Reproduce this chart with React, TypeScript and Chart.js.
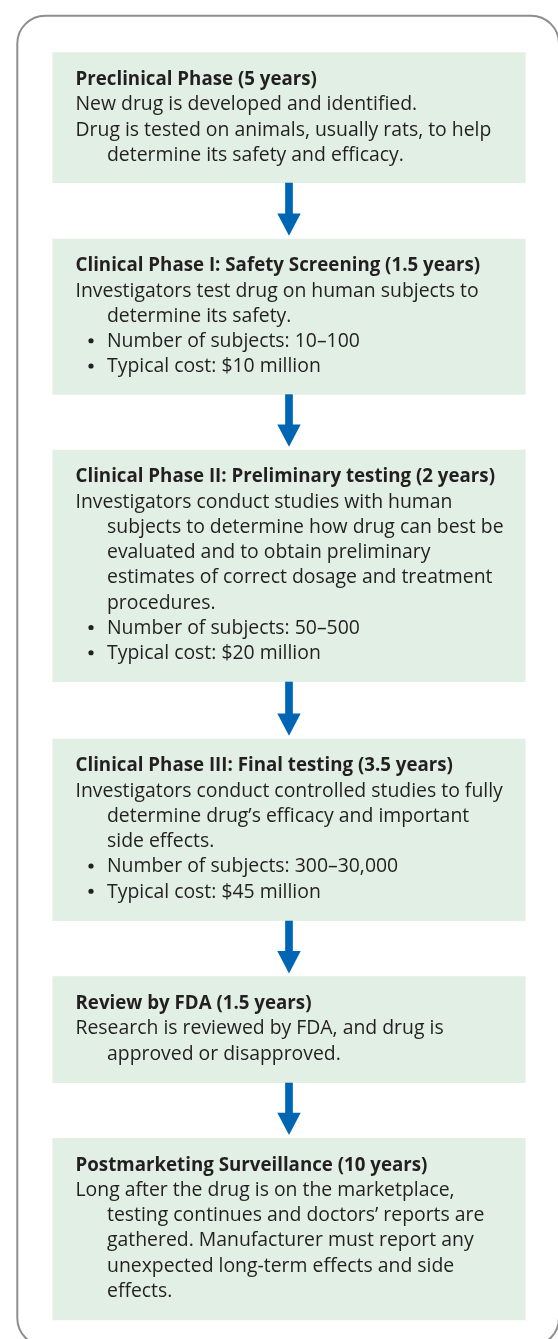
import React, { useEffect, useRef } from 'react';
import { Chart, registerables } from 'chart.js';

Chart.register(...registerables);

// ---------- DATA ----------
const stageTitles: string[] = [
  'Preclinical Phase (5 years)',
  'Clinical Phase I: Safety Screening (1.5 years)',
  'Clinical Phase II: Preliminary testing (2 years)',
  'Clinical Phase III: Final testing (3.5 years)',
  'Review by FDA (1.5 years)',
  'Postmarketing Surveillance (10 years)',
];

// "\t" = continuation line (hanging indent), "• " = bullet item
const stageBody: string[][] = [
  [
    'New drug is developed and identified.',
    'Drug is tested on animals, usually rats, to help',
    '\tdetermine its safety and efficacy.',
  ],
  [
    'Investigators test drug on human subjects to',
    '\tdetermine its safety.',
    '• Number of subjects: 10–100',
    '• Typical cost: $10 million',
  ],
  [
    'Investigators conduct studies with human',
    '\tsubjects to determine how drug can best be',
    '\tevaluated and to obtain preliminary',
    '\testimates of correct dosage and treatment',
    '\tprocedures.',
    '• Number of subjects: 50–500',
    '• Typical cost: $20 million',
  ],
  [
    'Investigators conduct controlled studies to fully',
    '\tdetermine drug’s efficacy and important',
    '\tside effects.',
    '• Number of subjects: 300–30,000',
    '• Typical cost: $45 million',
  ],
  [
    'Research is reviewed by FDA, and drug is',
    '\tapproved or disapproved.',
  ],
  [
    'Long after the drug is on the marketplace,',
    '\ttesting continues and doctors’ reports are',
    '\tgathered. Manufacturer must report any',
    '\tunexpected long-term effects and side',
    '\teffects.',
  ],
];

// vertical extent of each stage box (chart units, top -> bottom)
const stageStart: number[] = [52.7, 239, 450, 739, 976.7, 1138.3];
const stageEnd: number[] = [182.7, 394.3, 681.7, 920.7, 1082.7, 1320];

// ---------- LAYOUT / STYLE ----------
const W = 558;
const H = 1339;
const BOX_CENTER = 289;
const BOX_WIDTH = 472.6;
const BOX_COLOR = '#e2efe5';
const TEXT_COLOR = '#231f20';
const ARROW_COLOR = '#0066b3';
const FRAME_COLOR = '#8e8e90';
const FRAME = { left: 17.3, top: 15.7, right: 559, bottom: 1346, radius: 28 };
const TEXT_X = 75.5;
const INDENT_X = 107;
const BULLET_X = 91;
const FIRST_BASELINE = 32.3;
const LINE_GAP = 25.25;
const FONT_SIZE = 19.4;
const FONT_FAMILY = '"Open Sans", "Noto Sans", sans-serif';
const TEXT_SCALE_X = 1.0;
const TITLE_SCALE_X = 0.965;
const ARROW_GAP = 3.2;
const HEAD_LEN = 22.4;
const HEAD_HALF = 11.7;
const SHAFT_HALF = 3.85;

const flowPlugin = {
  id: 'flowPlugin',
  beforeDatasetsDraw(chart: any) {
    const { ctx, scales } = chart;
    const x = scales.x;
    const y = scales.y;
    const l = x.getPixelForValue(FRAME.left);
    const r = x.getPixelForValue(FRAME.right);
    const t = y.getPixelForValue(FRAME.top);
    const b = y.getPixelForValue(FRAME.bottom);
    ctx.save();
    ctx.beginPath();
    ctx.roundRect(l, t, r - l, b - t, FRAME.radius);
    ctx.strokeStyle = FRAME_COLOR;
    ctx.lineWidth = 2;
    ctx.stroke();
    ctx.restore();
  },
  afterDatasetsDraw(chart: any) {
    const { ctx, scales } = chart;
    const x = scales.x;
    const y = scales.y;
    const cx = x.getPixelForValue(BOX_CENTER);

    // arrows between consecutive stages
    ctx.save();
    ctx.fillStyle = ARROW_COLOR;
    for (let i = 0; i < stageEnd.length - 1; i++) {
      const y0 = y.getPixelForValue(stageEnd[i]);
      const tip = y.getPixelForValue(stageStart[i + 1] - ARROW_GAP);
      const hs = tip - HEAD_LEN;
      ctx.beginPath();
      ctx.rect(cx - SHAFT_HALF, y0, SHAFT_HALF * 2, hs - y0 + 1);
      ctx.fill();
      ctx.beginPath();
      ctx.moveTo(cx - HEAD_HALF, hs);
      ctx.lineTo(cx + HEAD_HALF, hs);
      ctx.lineTo(cx, tip);
      ctx.closePath();
      ctx.fill();
    }
    ctx.restore();

    // text
    const draw = (s: string, px: number, py: number, sx: number) => {
      ctx.save();
      ctx.translate(px, py);
      ctx.scale(sx, 1);
      ctx.fillText(s, 0, 0);
      ctx.restore();
    };
    ctx.save();
    ctx.fillStyle = TEXT_COLOR;
    ctx.textBaseline = 'alphabetic';
    ctx.textAlign = 'left';
    stageTitles.forEach((title, i) => {
      const base = stageStart[i] + FIRST_BASELINE;
      ctx.font = `bold ${FONT_SIZE}px ${FONT_FAMILY}`;
      draw(title, x.getPixelForValue(TEXT_X), y.getPixelForValue(base), TITLE_SCALE_X);
      ctx.font = `${FONT_SIZE}px ${FONT_FAMILY}`;
      stageBody[i].forEach((line, j) => {
        const py = y.getPixelForValue(base + (j + 1) * LINE_GAP);
        if (line.startsWith('\t')) {
          draw(line.slice(1), x.getPixelForValue(INDENT_X), py, TEXT_SCALE_X);
        } else if (line.startsWith('• ')) {
          ctx.beginPath();
          ctx.arc(x.getPixelForValue(BULLET_X), py - 6.3, 2.6, 0, Math.PI * 2);
          ctx.fill();
          draw(line.slice(2), x.getPixelForValue(INDENT_X), py, TEXT_SCALE_X);
        } else {
          draw(line, x.getPixelForValue(TEXT_X), py, TEXT_SCALE_X);
        }
      });
    });
    ctx.restore();
  },
};

export default function App() {
  const ref = useRef<HTMLCanvasElement | null>(null);
  useEffect(() => {
    document.body.style.margin = '0';
    document.body.style.overflow = 'hidden';
    const canvas = ref.current;
    if (!canvas) return;
    const chart = new Chart(canvas, {
      type: 'bar',
      data: {
        datasets: [
          {
            data: stageStart.map((s, i) => ({ x: BOX_CENTER, y: [s, stageEnd[i]] })) as any,
            backgroundColor: BOX_COLOR,
            borderWidth: 0,
            barThickness: BOX_WIDTH,
          },
        ],
      },
      options: {
        responsive: false,
        animation: false,
        devicePixelRatio: 1,
        events: [],
        layout: { padding: 0 },
        scales: {
          x: { type: 'linear', min: 0, max: W, display: false, offset: false },
          y: { type: 'linear', min: 0, max: H, reverse: true, display: false },
        },
        plugins: { legend: { display: false }, tooltip: { enabled: false } },
      },
      plugins: [flowPlugin],
    } as any);
    return () => chart.destroy();
  }, []);
  return (
    <div style={{ position: 'absolute', left: 0, top: 0, width: W, height: H, background: '#fff' }}>
      <canvas ref={ref} width={W} height={H} style={{ display: 'block' }} />
    </div>
  );
}
